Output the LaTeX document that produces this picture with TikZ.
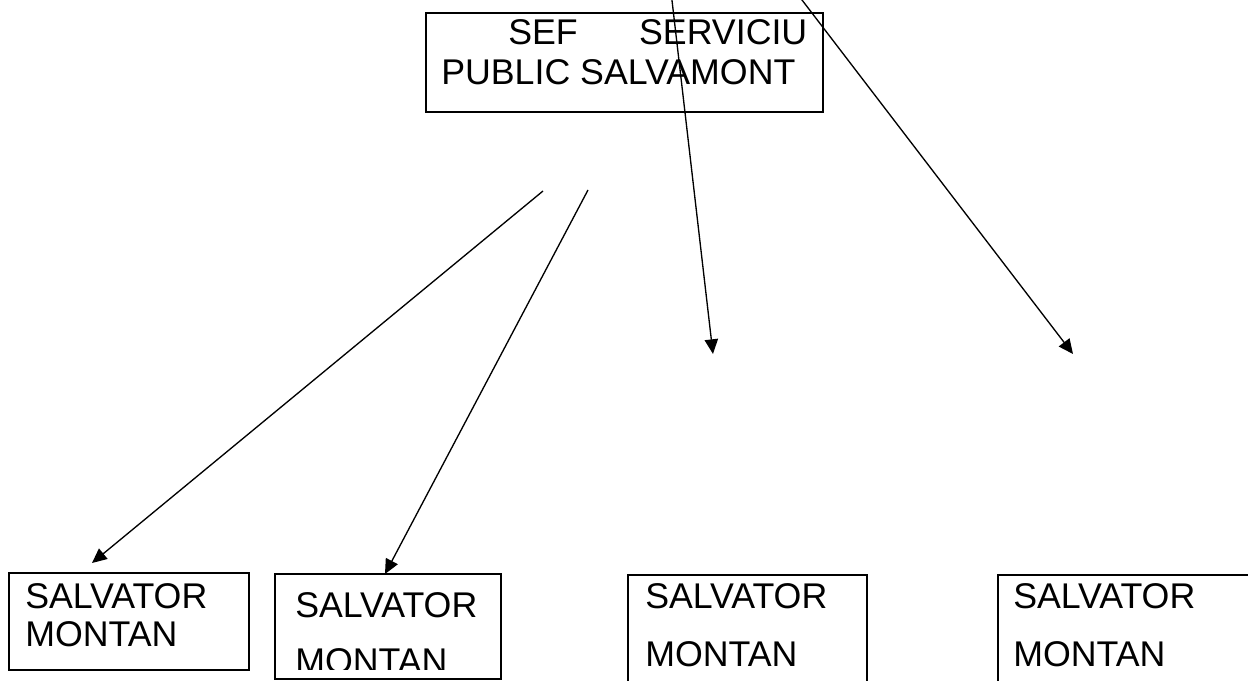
\documentclass[tikz,border=0pt]{standalone}
\usepackage{fontspec}
\setmainfont{Liberation Sans}
\usetikzlibrary{arrows.meta}
\begin{document}
\begin{tikzpicture}[x=0.75pt,y=-0.75pt,
  box/.style={draw, rectangle, inner sep=0pt, line width=1.4pt},
  thinbox/.style={box, line width=0.8pt},
  lbl/.style={anchor=base west, inner sep=0pt, font=\fontsize{26.8}{32}\selectfont},
  arr/.style={line width=1pt, -{Triangle[length=11pt,width=10pt]}}]
\clip (0,0) rectangle (1248,681);
% boxes
\node[box, minimum width=297.75pt, minimum height=74.25pt] (top) at (624.5,62.5) {};
\node[box, minimum width=180pt, minimum height=72.75pt] (b1) at (129,621.5) {};
\node[thinbox, minimum width=169.5pt, minimum height=78.75pt] (b2) at (388,626.5) {};
\node[box, minimum width=179.25pt, minimum height=93.75pt] (b3) at (747.5,637.5) {};
\node[box, minimum width=219pt, minimum height=93.75pt] (b4) at (1144,637.5) {};
% texts
\node[lbl] (t1a) at (508,45) {\makebox[224.25pt][l]{SEF\hfill SERVICIU}};
\node[lbl] (t1b) at (441,85) {PUBLIC SALVAMONT};
\node[lbl] (s1a) at (25,608) {SALVATOR};
\node[lbl] (s1b) at (25,646) {MONTAN};
\node[lbl] (s2a) at (295,617) {SALVATOR};
\begin{scope}
  \clip (275,574) rectangle (501,669);
  \node[lbl] (s2b) at (295,673) {MONTAN};
\end{scope}
\node[lbl] (s3a) at (645,608) {SALVATOR};
\node[lbl] (s3b) at (645,666) {MONTAN};
\node[lbl] (s4a) at (1013,608) {SALVATOR};
\node[lbl] (s4b) at (1013,666) {MONTAN};
% connector ends
\coordinate (p1) at (543,191);
\coordinate (q1) at (92,563);
\coordinate (p2) at (588,190);
\coordinate (q2) at (385,574);
\coordinate (p3) at (671.6,-3);
\coordinate (q3) at (713,354);
\coordinate (p4) at (799.7,-3);
\coordinate (q4) at (1073,354);
\draw[arr] (p1) -- (q1);
\draw[arr] (p2) -- (q2);
\draw[arr] (p3) -- (q3);
\draw[arr] (p4) -- (q4);
\end{tikzpicture}
\end{document}
